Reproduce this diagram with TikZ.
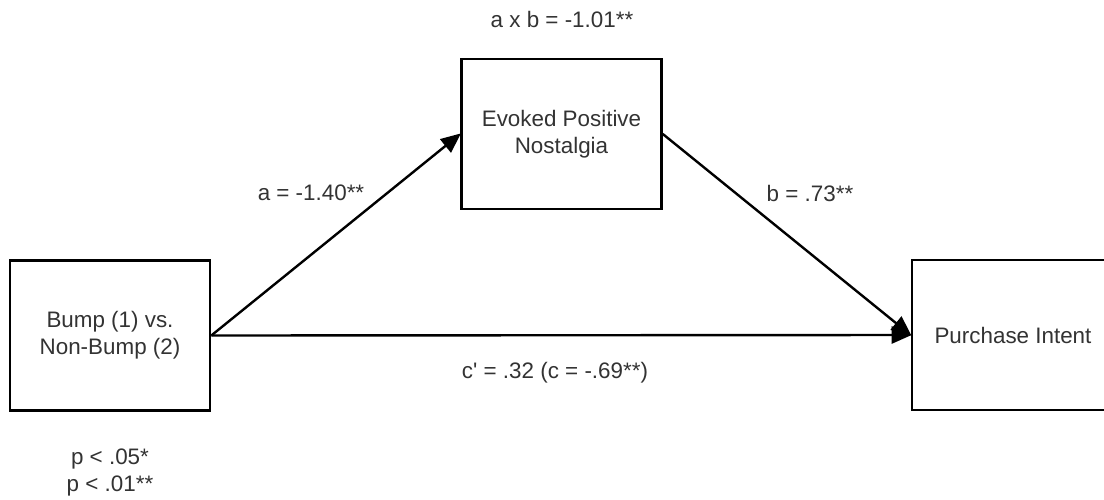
\documentclass[tikz,border=0pt]{standalone}
\usepackage{fontspec}
\setmainfont{Liberation Sans}
\newfontfamily\plainsans{Liberation Sans}
\usetikzlibrary{arrows.meta}
\definecolor{txt}{HTML}{333333}
\tikzset{
  box/.style={draw=black, line width=2.6pt, minimum width=200pt, minimum height=150pt, inner sep=0pt, align=center, text=txt, font=\fontsize{22.4}{27}\selectfont},
  lbl/.style={text=txt, font=\fontsize{22.4}{27}\selectfont, align=center, inner sep=0pt},
  conn/.style={draw=black, line width=2.4pt, -{Triangle[length=20pt,width=17pt]}, shorten >=-1pt}
}
\begin{document}
\begin{tikzpicture}[x=1pt,y=-1pt]
\useasboundingbox (0,0) rectangle (1104,499);
\clip (0,0) rectangle (1104,499);
\fill[white] (0,0) rectangle (1104,499);
\node[box] (bump) at (110,335.5) {Bump (1) vs.\\Non-Bump (2)};
\node[box] (nost) at (561.5,134) {Evoked Positive\\Nostalgia};
\node[box, minimum width=202pt] (pi) at (1013,335) {Purchase Intent};
\draw[conn] (bump.east) -- (nost.west);
\draw[conn] (nost.east) -- (pi.west);
\draw[conn] (bump.east) -- (pi.west);
\node[lbl] (ab) at (562,19) {a x b = -1.01**};
\node[lbl] (la) at (311,193) {a = -1.40**};
\node[lbl] (lb) at (810,193) {b = .73**};
\node[lbl] (lc) at (555,373) {\plainsans c' = .32 (c = -.69**)};
\node[lbl] (pv) at (110,472) {p < .05*\\p < .01**};
\end{tikzpicture}
\end{document}
